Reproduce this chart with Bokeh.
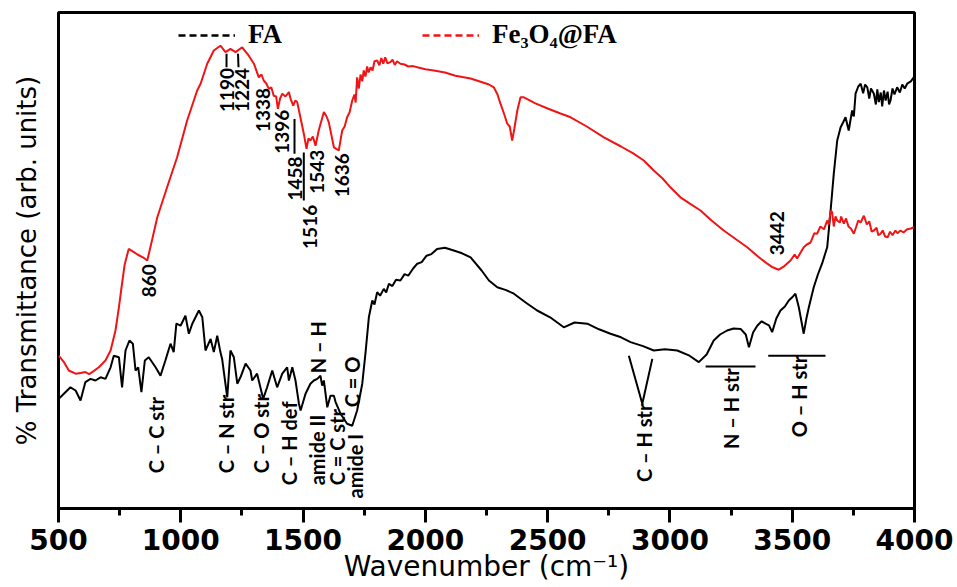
import math
from bokeh.plotting import figure
from bokeh.models import Range1d, SingleIntervalTicker, FixedTicker, Legend, LegendItem
from bokeh.core.properties import value
from bokeh.embed import file_html
from bokeh.resources import INLINE

# ---------------- data ----------------
fa_wn = [501, 522, 549, 570, 590, 610, 631, 651, 672, 692, 713, 726, 747, 760, 774, 790, 804, 815, 826, 839,
         853, 869, 897, 917, 937, 958, 971, 982, 999, 1019, 1033, 1047, 1074, 1088, 1101, 1122, 1135, 1149, 1162, 1169,
         1190, 1203, 1217, 1231, 1244, 1265, 1285, 1292, 1312, 1337, 1353, 1374, 1394, 1415, 1435, 1442, 1456, 1469, 1483, 1490,
         1510, 1530, 1544, 1558, 1571, 1578, 1585, 1599, 1612, 1626, 1633, 1653, 1680, 1701, 1721, 1742, 1755, 1769, 1783, 1792,
         1803, 1815, 1830, 1840, 1851, 1865, 1880, 1898, 1915, 1930, 1950, 1967, 1985, 2005, 2025, 2048, 2080, 2116, 2150, 2185,
         2230, 2260, 2294, 2330, 2362, 2410, 2457, 2510, 2566, 2610, 2662, 2710, 2757, 2800, 2839, 2890, 2934, 2980, 3030, 3080,
         3118, 3150, 3179, 3205, 3234, 3260, 3289, 3310, 3323, 3340, 3357, 3375, 3391, 3405, 3418, 3435, 3452, 3470, 3486, 3500,
         3513, 3527, 3547, 3558, 3568, 3588, 3605, 3622, 3643, 3657, 3670, 3684, 3698, 3708, 3718, 3731, 3745, 3752, 3759, 3770,
         3780, 3790, 3798, 3807, 3815, 3822, 3834, 3842, 3848, 3854, 3862, 3868, 3875, 3882, 3890, 3896, 3902, 3910, 3918, 3929,
         3940, 3950, 3960, 3970, 3985, 3997]
fa_t = [27.4, 28.7, 30.3, 29.5, 27.0, 31.6, 32.4, 32.0, 32.8, 32.4, 35.3, 38.2, 37.8, 30.3, 39.5, 42.0, 41.2, 34.5, 35.3, 29.1,
        37.0, 37.8, 35.3, 33.2, 37.0, 41.2, 39.1, 46.2, 45.7, 48.2, 43.7, 46.2, 49.5, 47.8, 39.5, 42.4, 39.1, 43.2, 39.1, 37.4,
        27.8, 39.5, 37.8, 31.2, 32.8, 36.2, 34.5, 32.0, 33.7, 27.4, 30.3, 34.5, 30.3, 33.7, 35.3, 32.0, 35.3, 32.0, 26.2, 24.5,
        28.7, 31.2, 32.0, 32.4, 33.2, 30.7, 32.0, 25.3, 28.2, 28.2, 26.6, 23.7, 21.2, 20.7, 24.5, 31.2, 38.7, 47.8, 52.0, 51.0,
        54.1, 53.2, 54.9, 54.0, 56.2, 55.6, 57.2, 57.0, 58.6, 58.2, 60.0, 61.2, 61.6, 63.2, 63.6, 64.9, 65.2, 64.5, 63.8, 62.8,
        59.5, 57.0, 55.3, 54.6, 53.7, 51.5, 49.5, 47.8, 45.3, 46.5, 46.2, 44.8, 43.7, 42.8, 41.6, 40.6, 39.5, 39.8, 39.5, 38.2,
        36.6, 38.5, 42.0, 43.5, 44.5, 45.0, 44.9, 43.5, 40.3, 44.0, 45.7, 46.8, 46.2, 45.8, 44.1, 47.5, 49.5, 50.5, 52.0, 52.8,
        53.7, 50.3, 43.7, 47.5, 50.3, 55.3, 58.5, 61.2, 65.3, 74.5, 83.7, 92.0, 95.3, 96.5, 97.8, 94.5, 99.5, 98.0, 103.7, 105.5,
        106.2, 103.8, 106.0, 105.3, 102.5, 105.0, 103.7, 101.0, 104.8, 101.6, 104.0, 100.5, 104.5, 102.0, 104.2, 101.0, 102.0, 105.0, 103.5, 105.3,
        104.0, 106.0, 105.0, 106.2, 106.8, 107.8]

fe_wn = [501, 522, 542, 570, 590, 610, 625, 638, 665, 692, 713, 733, 747, 756, 770, 787, 805, 823, 845, 863,
         884, 904, 944, 985, 1026, 1067, 1081, 1108, 1135, 1162, 1183, 1203, 1224, 1251, 1278, 1299, 1319, 1330, 1339, 1350,
         1360, 1370, 1380, 1390, 1397, 1406, 1415, 1428, 1442, 1450, 1460, 1468, 1476, 1489, 1503, 1514, 1522, 1530, 1540, 1551,
         1564, 1585, 1596, 1605, 1626, 1646, 1660, 1670, 1680, 1690, 1701, 1710, 1715, 1721, 1728, 1735, 1742, 1748, 1755, 1762,
         1768, 1776, 1784, 1792, 1803, 1812, 1820, 1828, 1836, 1845, 1857, 1866, 1875, 1884, 1898, 1915, 1930, 1950, 1967, 2000,
         2035, 2080, 2123, 2185, 2226, 2260, 2280, 2295, 2307, 2320, 2335, 2345, 2355, 2364, 2376, 2389, 2403, 2450, 2500, 2550,
         2594, 2660, 2730, 2800, 2850, 2893, 2934, 2970, 3002, 3043, 3080, 3125, 3170, 3220, 3270, 3316, 3360, 3398, 3420, 3445,
         3468, 3493, 3510, 3520, 3547, 3560, 3575, 3590, 3602, 3615, 3630, 3643, 3650, 3657, 3663, 3670, 3677, 3684, 3695, 3700,
         3711, 3720, 3730, 3740, 3752, 3762, 3770, 3780, 3793, 3805, 3815, 3825, 3834, 3845, 3852, 3861, 3870, 3880, 3890, 3900,
         3910, 3922, 3930, 3943, 3955, 3970, 3985, 3997]
fe_t = [38.2, 36.6, 34.5, 33.7, 33.9, 34.1, 33.6, 34.1, 35.3, 37.0, 39.5, 44.5, 50.3, 54.5, 60.8, 64.9, 64.2, 63.5, 62.8, 62.0,
        67.5, 72.8, 80.3, 87.8, 97.0, 104.5, 106.2, 111.2, 114.5, 115.7, 114.1, 114.9, 114.1, 115.3, 113.2, 111.2, 107.8, 108.5, 107.0, 106.2,
        104.9, 105.3, 103.2, 103.0, 99.9, 102.5, 103.7, 103.0, 104.1, 102.2, 100.7, 102.0, 101.6, 97.8, 93.7, 89.9, 92.5, 92.0, 93.0, 90.7,
        94.5, 99.1, 98.0, 96.6, 90.3, 89.5, 94.5, 95.5, 97.8, 99.0, 102.0, 103.5, 101.5, 107.8, 105.0, 108.5, 106.8, 109.5, 108.0, 110.5,
        109.0, 110.3, 109.5, 111.8, 112.0, 110.8, 112.6, 111.2, 112.8, 111.3, 111.6, 112.2, 110.9, 111.8, 111.2, 111.0, 110.5, 110.6, 110.3, 109.8,
        109.5, 109.0, 108.2, 107.5, 106.7, 106.0, 105.3, 103.5, 101.2, 99.0, 96.2, 95.5, 92.0, 95.0, 99.5, 102.8, 102.8, 101.3, 100.0, 98.8,
        97.8, 95.5, 92.8, 90.5, 88.8, 87.0, 84.5, 82.5, 80.3, 77.8, 76.3, 74.5, 72.0, 69.5, 67.3, 65.3, 63.0, 61.2, 60.3, 59.7,
        60.6, 62.0, 63.5, 62.5, 65.3, 66.0, 66.5, 68.8, 68.7, 70.5, 69.8, 72.0, 71.0, 74.5, 74.1, 70.5, 73.0, 72.0, 71.5, 73.0,
        71.2, 72.5, 70.5, 70.0, 68.7, 70.5, 72.0, 71.5, 73.2, 71.0, 71.8, 69.2, 69.5, 70.2, 68.3, 68.7, 69.5, 68.0, 67.8, 69.2,
        68.3, 69.5, 68.8, 69.5, 69.0, 69.8, 70.0, 70.3]

# band labels on the FA curve (text, x = wavenumber, y = where the text starts)
fa_labels = ["C – C str", "C – N str", "C – O str", "C – H def", "amide II", "N – H", "C = C str", "amide I", "C = O",
             "C – H str", "N – H str", "O – H str"]
fa_label_x = [897, 1183, 1326, 1442, 1558, 1563, 1640, 1714, 1701, 2893, 3248, 3527]
fa_label_y = [8.8, 8.8, 8.8, 5.8, 5.8, 33.8, 5.8, 2.5, 25.3, 6.6, 14.9, 17.8]

# peak labels on the Fe3O4@FA curve
fe_labels = ["860", "1190", "1224", "1338", "1396", "1458", "1516", "1543", "1636", "3442"]
fe_label_x = [869, 1187, 1249, 1336, 1412, 1469, 1530, 1558, 1660, 3436]
fe_label_y = [52.8, 99.1, 99.1, 94.1, 88.7, 77.0, 64.9, 78.7, 77.8, 63.3]

# marker segments (x0, y0, x1, y1)
seg_x0 = [1187, 1234, 1465, 1503, 3146, 3402]
seg_y0 = [113.7, 113.7, 97.4, 89.0, 35.5, 38.2]
seg_x1 = [1187, 1236, 1465, 1503, 3350, 3636]
seg_y1 = [110.3, 110.3, 88.7, 77.0, 35.5, 38.2]
v_x = [2832, 2887, 2928]
v_y = [38.2, 26.2, 37.4]

x_ticks_interval = 500

# ---------------- figure ----------------
p = figure(width=957, height=587, output_backend="svg", toolbar_location=None,
           x_range=Range1d(500, 4000), y_range=Range1d(0, 124),
           min_border_left=58, min_border_right=43, min_border_top=12, min_border_bottom=79)
p.grid.visible = False
p.outline_line_color = "black"
p.outline_line_width = 3
p.background_fill_color = "white"
p.border_fill_color = "white"

xa = p.xaxis[0]
xa.ticker = SingleIntervalTicker(interval=x_ticks_interval, num_minor_ticks=2)
xa.axis_line_width = 3
xa.major_tick_line_width = 3
xa.minor_tick_line_width = 3
xa.major_tick_out = 14
xa.major_tick_in = 0
xa.minor_tick_out = 7
xa.minor_tick_in = 0
xa.major_label_text_font = "DejaVu Sans"
xa.major_label_text_font_style = "bold"
xa.major_label_text_font_size = "28px"
xa.major_label_text_color = "black"
xa.major_label_standoff = 6
xa.axis_label = "Wavenumber (cm⁻¹)"
xa.axis_label_text_font = "DejaVu Sans"
xa.axis_label_text_font_style = "normal"
xa.axis_label_text_font_size = "28px"
xa.axis_label_text_color = "black"
xa.axis_label_standoff = -3

ya = p.yaxis[0]
ya.ticker = FixedTicker(ticks=[])
ya.major_label_text_font_size = "0px"
ya.axis_line_color = None
ya.major_tick_line_color = None
ya.minor_tick_line_color = None
ya.major_tick_out = 0
ya.axis_label = "% Transmittance (arb. units)"
ya.axis_label_text_font = "DejaVu Sans"
ya.axis_label_text_font_style = "normal"
ya.axis_label_text_font_size = "26px"
ya.axis_label_text_color = "black"
ya.axis_label_standoff = 17

p.line(fa_wn, fa_t, line_color="black", line_width=2)
p.line(fe_wn, fe_t, line_color="#f01515", line_width=2)

p.segment(x0=seg_x0, y0=seg_y0, x1=seg_x1, y1=seg_y1, line_color="black", line_width=2)
p.line(v_x, v_y, line_color="black", line_width=2)

p.text(x=fa_label_x, y=fa_label_y, text=fa_labels, angle=math.pi / 2,
       text_align="left", text_baseline="middle", text_font=value("Lato"),
       text_font_style="bold", text_font_size="20px", text_color="black")
p.text(x=fe_label_x, y=fe_label_y, text=fe_labels, angle=math.pi / 2,
       text_align="left", text_baseline="middle", text_font=value("Lato"),
       text_font_style="bold", text_font_size="19px", text_color="black")

# legend with dashed sample lines (renderers hold no visible points)
nan = float("nan")
leg_fa = p.line(x=[nan], y=[nan], line_color="black", line_width=2.5, line_dash="7 4")
leg_fe = p.line(x=[nan], y=[nan], line_color="#f01515", line_width=2.5, line_dash="7 4")
legend = Legend(items=[LegendItem(label="FA", renderers=[leg_fa]),
                       LegendItem(label="Fe₃O₄@FA", renderers=[leg_fe])],
                orientation="horizontal", location=(120, 458),
                glyph_width=57, glyph_height=20, label_standoff=13, spacing=140,
                padding=0, margin=0, border_line_color=None, background_fill_alpha=0,
                label_text_font="Liberation Serif", label_text_font_style="bold",
                label_text_font_size="27px", label_text_color="black")
p.add_layout(legend)

open("out.html", "w").write(file_html(p, INLINE))
